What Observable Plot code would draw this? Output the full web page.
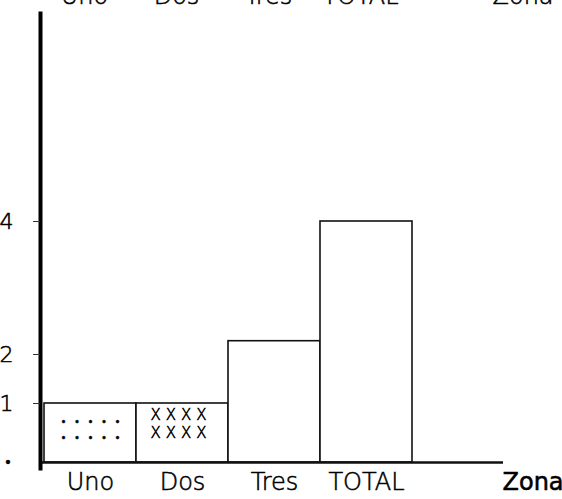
<!DOCTYPE html>
<html>
<head>
<meta charset="utf-8">
<script src="https://cdn.jsdelivr.net/npm/d3@7"></script>
<script src="https://cdn.jsdelivr.net/npm/@observablehq/plot@0.6"></script>
<style>
  html, body { margin: 0; padding: 0; background: #fff; }
  #chart svg { display: block; }
  #chart svg text { stroke: #000; stroke-width: 0.55px; fill: #000; }
</style>
</head>
<body>
<div id="chart"></div>
<script>
// Data
const zonas = ["Uno", "Dos", "Tres", "TOTAL"];
const valores = [1, 1, 2.2, 4];
const yTicks = [1, 2, 4];
const yEscalaMarcas = [0, 1, 2, 4];
const ejeX = "Zona";
const rellenoZonas = ["Uno", "Dos"];
const rellenoSimbolos = ["•\u2003•\u2003•\u2003•\u2003•", "X\u2004X\u2004X\u2004X"];

const datos = zonas.map((z, i) => ({zona: z, valor: valores[i]}));
const valorDe = Object.fromEntries(datos.map(d => [d.zona, d.valor]));
const relleno = rellenoZonas.map((z, i) => ({zona: z, simbolo: rellenoSimbolos[i], valor: valorDe[z] / 2}));
const font = "'DejaVu Sans', sans-serif";

const chart = Plot.plot({
  width: 562,
  height: 499,
  marginTop: 13,
  marginBottom: 31,
  marginLeft: 40,
  marginRight: 59,
  style: {fontFamily: font, fontSize: "24px", color: "#000", background: "#fff", fontWeight: 200},
  x: {type: "band", domain: zonas, range: [43, 412], padding: 0},
  y: {type: "linear", domain: yEscalaMarcas, range: [462, 403, 354, 221]},
  marks: [
    Plot.rectY(datos, {x: "zona", y: "valor", fill: "#fff", stroke: "#111", strokeWidth: 1.6}),
    // fill patterns
    Plot.text(relleno.filter(d => d.zona === "Uno"), {x: "zona", y: "valor", text: "simbolo", fontSize: 10, dy: -11, fill: "#000"}),
    Plot.text(relleno.filter(d => d.zona === "Uno"), {x: "zona", y: "valor", text: "simbolo", fontSize: 10, dy: 5, fill: "#000"}),
    Plot.text(relleno.filter(d => d.zona === "Dos"), {x: "zona", y: "valor", text: "simbolo", fontSize: 15, dy: -18, dx: -4, fill: "#000"}),
    Plot.text(relleno.filter(d => d.zona === "Dos"), {x: "zona", y: "valor", text: "simbolo", fontSize: 15, dy: 0, dx: -4, fill: "#000"}),
    // axes
    Plot.ruleY([0], {stroke: "#111", strokeWidth: 2.6}),
    Plot.frame({anchor: "left", stroke: "#000", strokeWidth: 4}),
    Plot.axisY({ticks: yTicks, tickSize: 7, tickPadding: 20, fontSize: 22, tickFormat: d => String(d), label: null, stroke: "#333"}),
    Plot.axisX({tickSize: 0, tickPadding: 4, fontSize: 24, label: null, anchor: "bottom"}),
    Plot.text([ejeX], {frameAnchor: "bottom-right", textAnchor: "start", lineAnchor: "top", dx: -1, dy: 4, fontSize: 24, fontWeight: 400, fill: "#000"}),
    // clipped labels at the very top
    Plot.text(zonas, {x: d => d, frameAnchor: "top", lineAnchor: "bottom", dy: -10, dx: -6, fontSize: 24, fill: "#000"}),
    Plot.text([ejeX], {frameAnchor: "top-right", textAnchor: "start", lineAnchor: "bottom", dy: -10, dx: -11, fontSize: 24, fill: "#000"}),
    // scan mark at the zero level
    Plot.text([0], {y: d => d, frameAnchor: "left", text: () => "•", dx: -35, fontSize: 14, fill: "#000"})
  ]
});
document.getElementById("chart").appendChild(chart);
</script>
</body>
</html>
